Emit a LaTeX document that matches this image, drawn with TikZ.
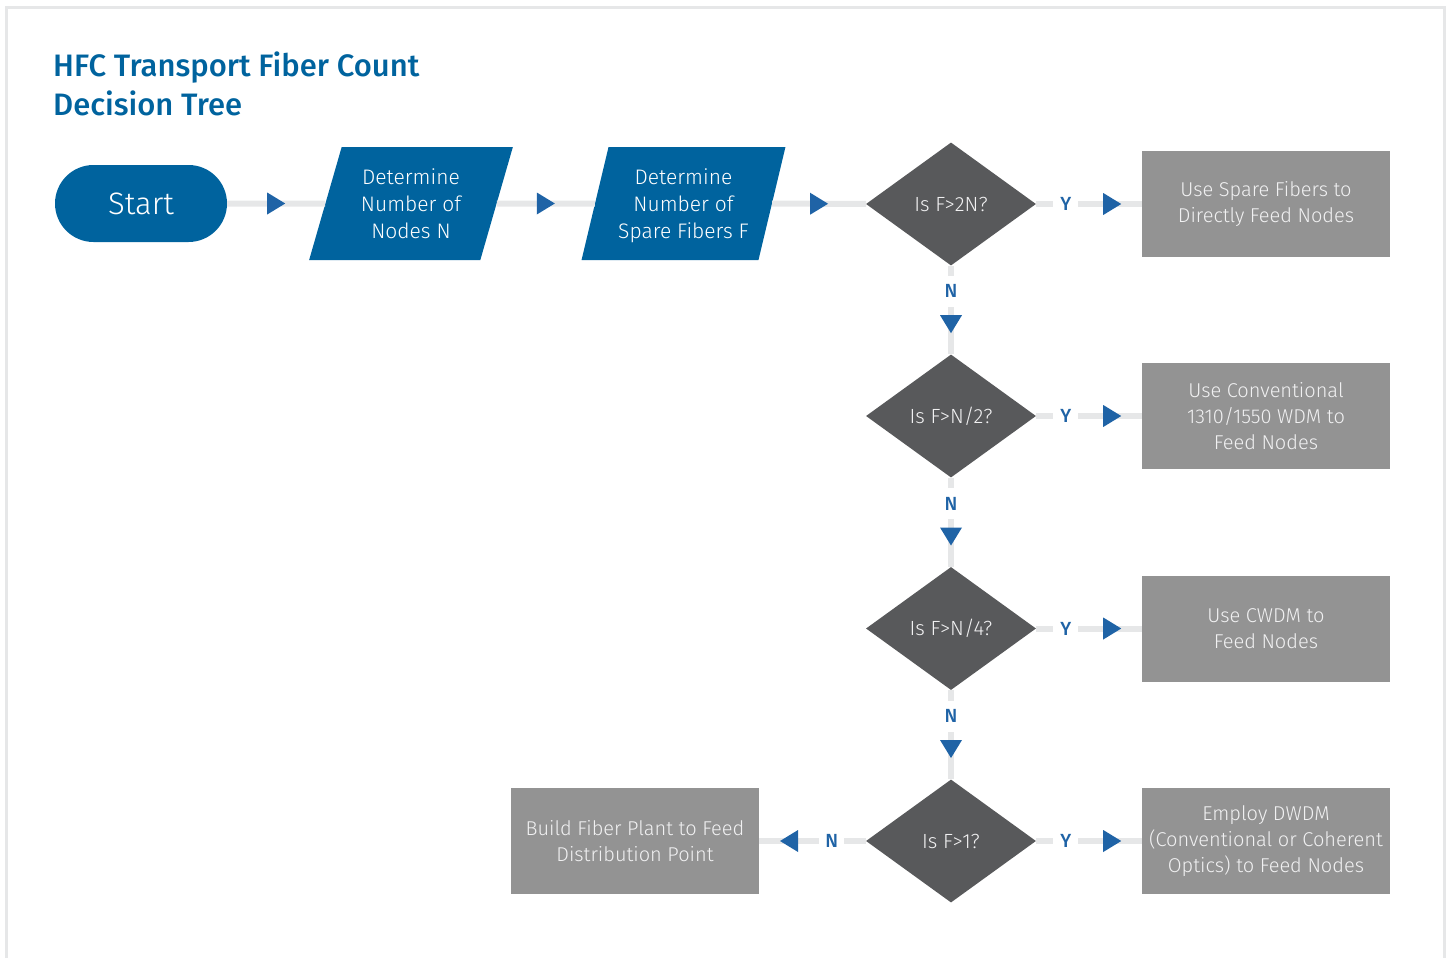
\documentclass[tikz,border=0pt]{standalone}
\usepackage{fontspec}
\setmainfont{Fira Sans}[UprightFont={* Light}, BoldFont={* Medium}]
\usetikzlibrary{shapes.geometric,decorations.markings}

\definecolor{hfcblue}{HTML}{00639E}
\definecolor{arrowblue}{HTML}{1F63A6}
\definecolor{darkdia}{HTML}{58595B}
\definecolor{boxgray}{HTML}{939393}
\definecolor{linegray}{HTML}{E6E7E8}
\definecolor{textlight}{HTML}{F1F1F2}

\tikzset{
  startbox/.style={rectangle, fill=hfcblue, rounded corners=38.5pt,
    minimum width=172pt, minimum height=77pt, inner sep=0pt, text=white,
    font=\fontsize{31}{36}\selectfont},
  iobox/.style={trapezium, trapezium left angle=71.4, trapezium right angle=108.6,
    trapezium stretches=true, fill=hfcblue, minimum width=204pt, minimum height=113pt,
    inner sep=0pt, text=white, align=center, text depth=0pt,
    font=\fontsize{21}{27}\selectfont},
  decision/.style={diamond, fill=darkdia, minimum width=170pt, minimum height=123pt,
    inner sep=0pt, text=textlight, font=\fontsize{20.5}{24}\selectfont},
  actbox/.style={rectangle, fill=boxgray, minimum width=248pt, minimum height=106pt,
    inner sep=0pt, text=textlight, align=center, font=\fontsize{20}{26}\selectfont},
  link/.style={draw=linegray, line width=6pt},
  flowtip/.style={postaction={decorate}, decoration={markings,
    mark=at position #1 with {\fill[arrowblue] (-9pt,-11pt) -- (9pt,0pt) -- (-9pt,11pt) -- cycle;}}},
  lbl/.style={fill=white, text=arrowblue, inner sep=0pt, minimum width=25pt,
    minimum height=31pt, font=\bfseries\fontsize{19}{19}\selectfont},
}

\begin{document}
\begin{tikzpicture}[x=1pt, y=-1pt]
  \useasboundingbox (0,0) rectangle (1452,958);
  % page frame
  \draw[draw=linegray, line width=2.5pt] (6.5,965) -- (6.5,7.5) -- (1444.5,7.5) -- (1444.5,965);

  % title (anchored on the baseline of its last line)
  \node[anchor=base west, inner sep=0pt, text=hfcblue, align=left,
        font=\bfseries\fontsize{31}{39}\selectfont] (title) at (53,115)
        {HFC Transport Fiber Count\\Decision Tree};

  % main flow
  \node[startbox] (start) at (141,203.5) {Start};
  \node[iobox] (nodesN) at (411,203.5) {Determine\\Number of\\Nodes N};
  \node[iobox] (fibersF) at (683.5,203.5) {Determine\\Number of\\Spare Fibers F};

  \node[decision] (d1) at (951,204) {Is F>2N?};
  \node[decision] (d2) at (951,416) {Is F>N/2?};
  \node[decision] (d3) at (951,628.5) {Is F>N/4?};
  \node[decision] (d4) at (951,841) {Is F>1?};

  \node[actbox] (b1) at (1266,204) {Use Spare Fibers to\\Directly Feed Nodes};
  \node[actbox] (b2) at (1266,416) {Use Conventional\\1310/1550 WDM to\\Feed Nodes};
  \node[actbox] (b3) at (1266,628.5) {Use CWDM to\\Feed Nodes};
  \node[actbox] (b4) at (1266,841) {Employ DWDM\\(Conventional or Coherent\\Optics) to Feed Nodes};
  \node[actbox] (bl) at (635,841) {Build Fiber Plant to Feed\\Distribution Point};

  % connectors
  \draw[link, flowtip=0.5] (start) -- (nodesN);
  \draw[link, flowtip=0.5] (nodesN) -- (fibersF);
  \draw[link, flowtip=0.5] (fibersF) -- (d1);

  \draw[link, flowtip=0.72] (d1) -- node[lbl, pos=0.28] {Y} (b1);
  \draw[link, flowtip=0.72] (d2) -- node[lbl, pos=0.28] {Y} (b2);
  \draw[link, flowtip=0.72] (d3) -- node[lbl, pos=0.28] {Y} (b3);
  \draw[link, flowtip=0.72] (d4) -- node[lbl, pos=0.28] {Y} (b4);

  \draw[link, flowtip=0.66] (d1) -- node[lbl, pos=0.29] {N} (d2);
  \draw[link, flowtip=0.66] (d2) -- node[lbl, pos=0.29] {N} (d3);
  \draw[link, flowtip=0.66] (d3) -- node[lbl, pos=0.29] {N} (d4);
  \draw[link, flowtip=0.72] (d4) -- node[lbl, pos=0.32] {N} (bl);
\end{tikzpicture}
\end{document}
